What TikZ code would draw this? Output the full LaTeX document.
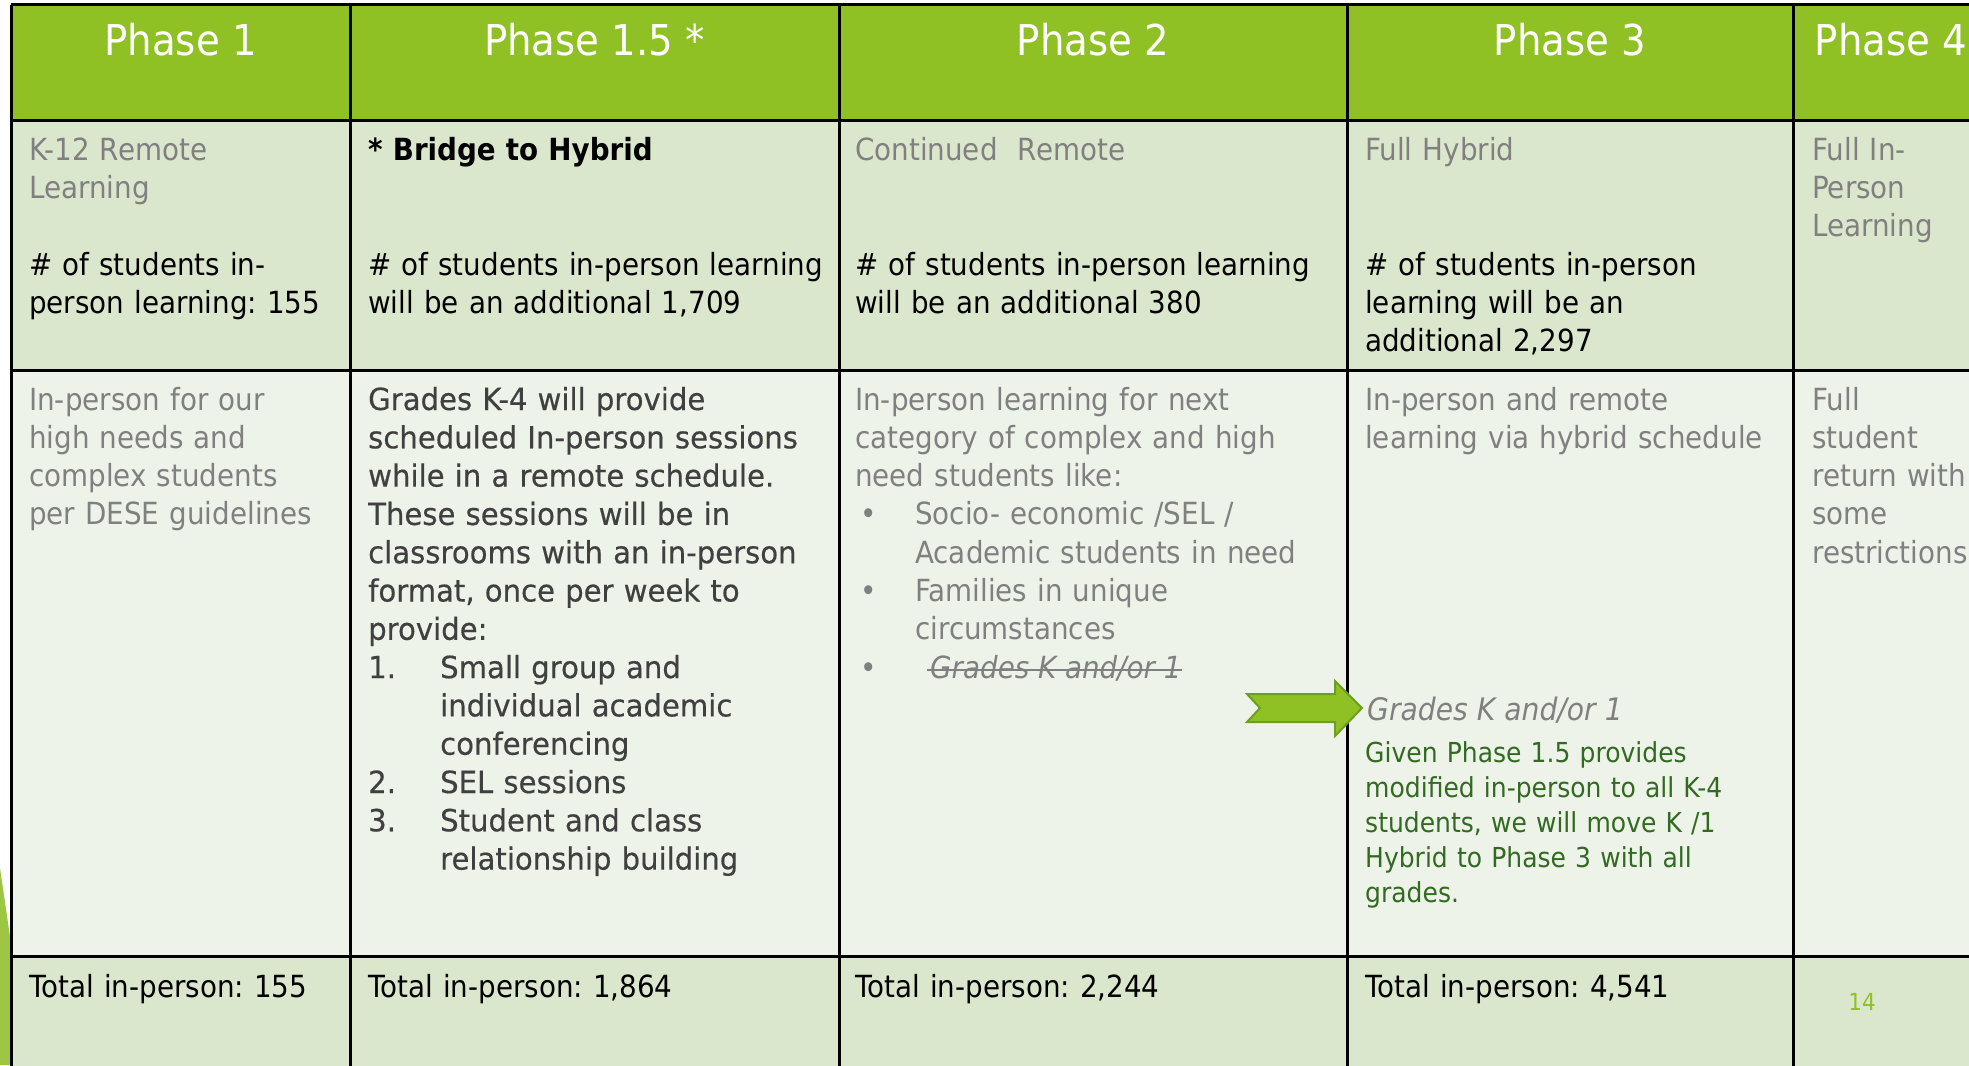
\documentclass[tikz,border=0pt]{standalone}
\usepackage{fontspec}
\setmainfont{DejaVu Sans}[FakeStretch=0.91]
\newfontfamily\darkfont{DejaVu Sans}[FakeStretch=0.955, FakeBold=0.4]
\definecolor{hdrgreen}{HTML}{8FC125}
\definecolor{rowa}{HTML}{DBE7CD}
\definecolor{rowb}{HTML}{EDF3E8}
\definecolor{txtgray}{HTML}{808080}
\definecolor{dkgray}{HTML}{404040}
\definecolor{txtgreen}{HTML}{336A22}
\definecolor{arrowedge}{HTML}{6E9E1E}
\definecolor{sidegreen}{HTML}{9DC643}
\tikzset{
  txt/.style={anchor=base west, inner sep=0pt, text width=600pt, align=left,
    font=\fontsize{30.5}{38.3}\selectfont\frenchspacing},
  gtxt/.style={txt, text=txtgray},
  btxt/.style={txt, text=black},
  ntxt/.style={txt, text=txtgreen, font=\fontsize{27.5}{35}\selectfont\frenchspacing},
  hdr/.style={anchor=base, inner sep=0pt, text=white, font=\fontsize{42.5}{50}\selectfont},
  grid line/.style={line width=3pt, black},
}
\begin{document}
\frenchspacing
\begin{tikzpicture}[x=1pt,y=-1pt]
\useasboundingbox (0,0) rectangle (1969,1065);
\clip (0,0) rectangle (1969,1065);
\fill[white] (0,0) rectangle (1969,1065);
% side decoration
\fill[sidegreen] (0,868) -- (12,950) -- (12,1065) -- (0,1065) -- cycle;
% row fills
\fill[hdrgreen] (11,5) rectangle (1989,120);
\fill[rowa] (11,120) rectangle (1989,370);
\fill[rowb] (11,370) rectangle (1989,956);
\fill[rowa] (11,956) rectangle (1989,1100);
% grid
\foreach \yy in {5,120,370,956} \draw[grid line] (11,\yy) -- (1989,\yy);
\foreach \xx in {11,350,839,1347,1793} \draw[grid line] (\xx,5) -- (\xx,1100);
% headers
\node[hdr] (h1) at (180.5,56) {Phase 1};
\node[hdr] (h15) at (594.5,56) {Phase 1.5 *};
\node[hdr] (h2) at (1093,56) {Phase 2};
\node[hdr] (h3) at (1570,56) {Phase 3};
\node[hdr] (h4) at (1891,56) {Phase 4};
% row 2
\node[gtxt] (r2c1a) at (29,160) {K-12 Remote\\Learning};
\node[btxt] (r2c1b) at (29,275) {\# of students in-\\person learning: 155};
\node[btxt] (r2c2a) at (368,160) {\bfseries * Bridge to Hybrid};
\node[btxt] (r2c2b) at (368,275) {\# of students in-person learning\\will be an additional 1,709};
\node[gtxt] (r2c3a) at (855,160) {Continued\ \ Remote};
\node[btxt] (r2c3b) at (855,275) {\# of students in-person learning\\will be an additional 380};
\node[gtxt] (r2c4a) at (1365,160) {Full Hybrid};
\node[btxt] (r2c4b) at (1365,275) {\# of students in-person\\learning will be an\\additional 2,297};
\node[gtxt] (r2c5) at (1812,160) {Full In-\\Person\\Learning};
% row 3
\node[gtxt] (r3c1) at (29,410) {In-person for our\\high needs and\\complex students\\per DESE guidelines};
\node[txt, text=dkgray, font=\darkfont\fontsize{30.5}{38.3}\selectfont\frenchspacing] (r3c2) at (368,410) {Grades K-4 will provide\\scheduled In-person sessions\\while in a remote schedule.\\These sessions will be in\\classrooms with an in-person\\format, once per week to\\provide:\\\makebox[72pt][l]{1.}Small group and\\\hspace*{72pt}individual academic\\\hspace*{72pt}conferencing\\\makebox[72pt][l]{2.}SEL sessions\\\makebox[72pt][l]{3.}Student and class\\\hspace*{72pt}relationship building};
\node[gtxt] (r3c3) at (855,410) {In-person learning for next\\category of complex and high\\need students like:\\\makebox[60pt][l]{\hspace*{5pt}•}Socio- economic /SEL /\\\hspace*{60pt}Academic students in need\\\makebox[60pt][l]{\hspace*{5pt}•}Families in unique\\\hspace*{60pt}circumstances\\\makebox[60pt][l]{\hspace*{5pt}•}};
\node[gtxt, text width=, font=\fontsize{30.5}{38.3}\selectfont\itshape] (strike) at (930,678.1) {Grades K and/or 1};
\draw[txtgray, line width=2pt] ([xshift=-3pt,yshift=8pt]strike.base west) -- ([yshift=8pt]strike.base east);
\node[gtxt] (r3c4a) at (1365,410) {In-person and remote\\learning via hybrid schedule};
\node[gtxt, text width=, font=\fontsize{31}{38.3}\selectfont\itshape] (r3c4b) at (1367,720) {Grades K and/or 1};
\node[ntxt] (r3c4c) at (1365,762) {Given Phase 1.5 provides\\modified in-person to all K-4\\students, we will move K /1\\Hybrid to Phase 3 with all\\grades.};
\node[gtxt] (r3c5) at (1812,410) {Full\\student\\return with\\some\\restrictions};
% arrow
\draw[fill=hdrgreen, draw=arrowedge, line width=2pt, line join=miter]
  (1247,694) -- (1335,694) -- (1335,681) -- (1362,708) -- (1335,736)
  -- (1335,722) -- (1247,722) -- (1260,708) -- cycle;
% row 4
\node[btxt] (r4c1) at (29,997) {Total in-person: 155};
\node[btxt] (r4c2) at (368,997) {Total in-person: 1,864};
\node[btxt] (r4c3) at (855,997) {Total in-person: 2,244};
\node[btxt] (r4c4) at (1365,997) {Total in-person: 4,541};
\node[anchor=base, inner sep=0pt, text=hdrgreen, font=\fontsize{23.5}{28}\selectfont] (pg) at (1862,1010) {14};
\end{tikzpicture}
\end{document}
